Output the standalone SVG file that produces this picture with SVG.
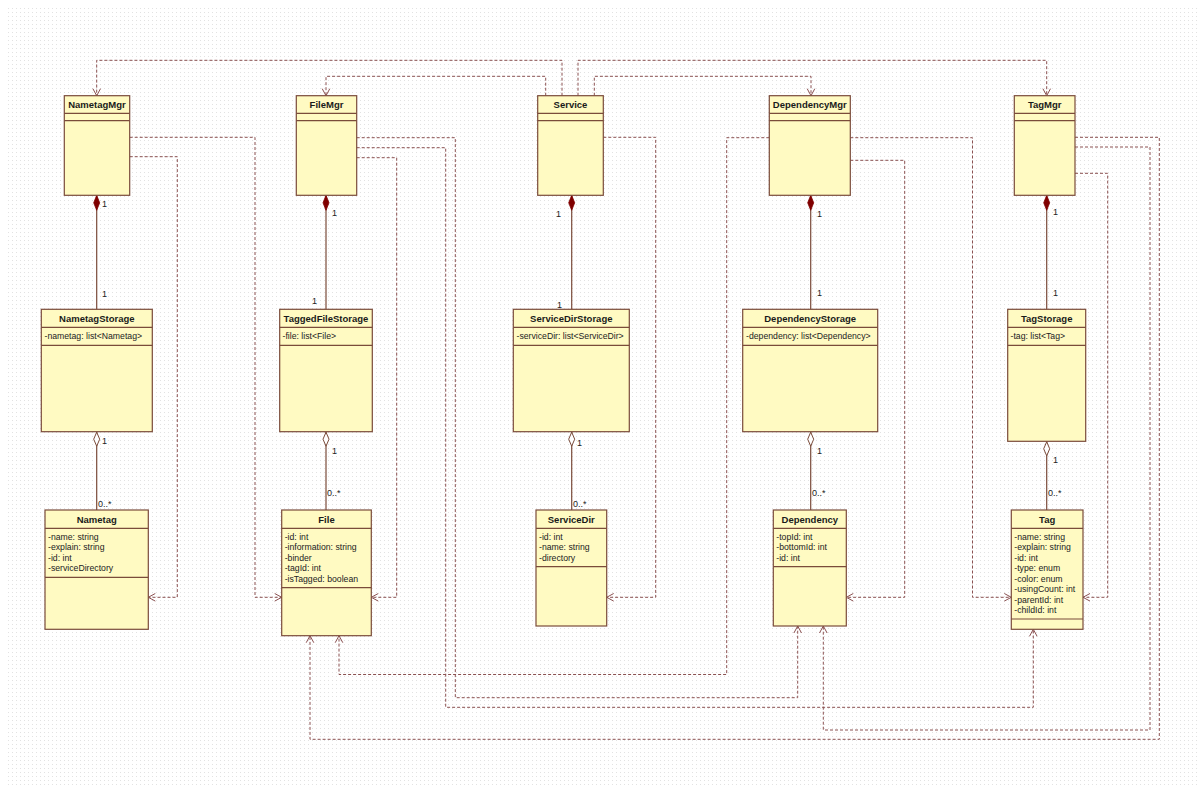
<svg xmlns="http://www.w3.org/2000/svg" width="1203" height="792" viewBox="0 0 1203 792">
<style>
.box{fill:#fffac2;stroke:#7a4b3a;stroke-width:1.2}
.sep{stroke:#7a4b3a;stroke-width:1.2}
.t{font-family:"Liberation Sans",Arial,sans-serif;font-size:9.5px;font-weight:bold;fill:#1a1a1a;text-anchor:middle}
.a{font-family:"Liberation Sans",Arial,sans-serif;font-size:8.7px;fill:#222}
.m{font-family:"Liberation Sans",Arial,sans-serif;font-size:9px;fill:#222}
.comp{fill:none;stroke:#7a4b3a;stroke-width:1.2;marker-start:url(#dfill)}
.agg{fill:none;stroke:#7a4b3a;stroke-width:1.2;marker-start:url(#dopen)}
.dep{fill:none;stroke:#8a5050;stroke-width:1;stroke-dasharray:3 2;marker-end:url(#arr)}
</style>
<defs>
<pattern id="grid" x="0" y="0" width="4" height="4" patternUnits="userSpaceOnUse">
<rect x="0" y="0" width="1" height="1" fill="#e2e2e2"/>
</pattern>
<marker id="arr" viewBox="0 -5 9 10" markerWidth="9" markerHeight="10" refX="8" refY="0" orient="auto" markerUnits="userSpaceOnUse">
<path d="M1,-3.8 L8,0 L1,3.8" fill="none" stroke="#8a5050" stroke-width="1"/>
</marker>
<marker id="dfill" viewBox="0 -4 16 8" markerWidth="16" markerHeight="8" refX="0" refY="0" orient="auto" markerUnits="userSpaceOnUse">
<path d="M0,0 L7.5,-3 L15,0 L7.5,3 Z" fill="#800000" stroke="#800000" stroke-width="0.8"/>
</marker>
<marker id="dopen" viewBox="0 -4 16 8" markerWidth="16" markerHeight="8" refX="0" refY="0" orient="auto" markerUnits="userSpaceOnUse">
<path d="M0.5,0 L7.5,-3 L14.5,0 L7.5,3 Z" fill="#ffffff" stroke="#7a4b3a" stroke-width="1"/>
</marker>
</defs>
<rect x="0" y="0" width="1203" height="792" fill="#ffffff"/>
<rect x="5" y="5" width="1193" height="780" fill="url(#grid)"/>

<g id="connectors">
<path class="comp" d="M96.7,195.3 V309.3"/>
<path class="comp" d="M326,195.3 V309.3"/>
<path class="comp" d="M571.7,195.3 V309.3"/>
<path class="comp" d="M810.7,195.3 V309.3"/>
<path class="comp" d="M1046.7,195.3 V309.3"/>
<path class="agg" d="M96.7,431.7 V510"/>
<path class="agg" d="M326,431.7 V510"/>
<path class="agg" d="M571.7,431.7 V510"/>
<path class="agg" d="M810.7,431.7 V510"/>
<path class="agg" d="M1046.7,441.3 V510"/>
<path class="dep" d="M562,95.7 V60.3 H96.7 V95.7"/>
<path class="dep" d="M545.7,95.7 V76.3 H326 V95.7"/>
<path class="dep" d="M578,95.7 V60.3 H1046.7 V95.7"/>
<path class="dep" d="M594.3,95.7 V76.3 H811 V95.7"/>
<path class="dep" d="M129.7,137.3 H255 V597.3 H281.7"/>
<path class="dep" d="M129.7,156.7 H177.3 V597.3 H148.3"/>
<path class="dep" d="M356.7,137.7 H455.3 V697.7 H797.7 V626"/>
<path class="dep" d="M356.7,147.7 H445.7 V707.3 H1033.3 V629.3"/>
<path class="dep" d="M356.7,157.7 H396.7 V597.3 H371.3"/>
<path class="dep" d="M603.3,137.3 H655.7 V597.3 H606.7"/>
<path class="dep" d="M769.3,137.7 H726.7 V674.5 H339 V635.7"/>
<path class="dep" d="M850.3,137.7 H972.5 V597.3 H1011.3"/>
<path class="dep" d="M850.3,160.3 H904.7 V597.3 H846.3"/>
<path class="dep" d="M1075,137.3 H1159.3 V739.3 H310 V635.7"/>
<path class="dep" d="M1075,147 H1150 V730 H823.3 V626"/>
<path class="dep" d="M1075,173.3 H1107.7 V597.3 H1083"/>
<g class="m">
<text x="102" y="207">1</text>
<text x="102" y="297">1</text>
<text x="332" y="216">1</text>
<text x="312" y="304">1</text>
<text x="556" y="217">1</text>
<text x="557" y="308">1</text>
<text x="817" y="217">1</text>
<text x="817" y="296">1</text>
<text x="1053" y="215">1</text>
<text x="1053" y="296">1</text>
<text x="102" y="444">1</text>
<text x="98" y="507">0..*</text>
<text x="332" y="454">1</text>
<text x="327" y="496">0..*</text>
<text x="577" y="446">1</text>
<text x="573" y="507">0..*</text>
<text x="817" y="454">1</text>
<text x="812" y="496">0..*</text>
<text x="1053" y="463">1</text>
<text x="1048" y="496">0..*</text>
</g>
</g>

<g id="NametagMgr">
<rect class="box" x="64.3" y="95.7" width="65.4" height="99.6"/>
<line class="sep" x1="64.3" y1="113.3" x2="129.7" y2="113.3"/>
<line class="sep" x1="64.3" y1="120.7" x2="129.7" y2="120.7"/>
<text class="t" x="97" y="107.8">NametagMgr</text>
</g>
<g id="FileMgr">
<rect class="box" x="296.3" y="95.7" width="60.4" height="99.6"/>
<line class="sep" x1="296.3" y1="113.3" x2="356.7" y2="113.3"/>
<line class="sep" x1="296.3" y1="120.7" x2="356.7" y2="120.7"/>
<text class="t" x="326.5" y="107.8">FileMgr</text>
</g>
<g id="Service">
<rect class="box" x="537.7" y="95.7" width="65.6" height="99.6"/>
<line class="sep" x1="537.7" y1="113.3" x2="603.3" y2="113.3"/>
<line class="sep" x1="537.7" y1="120.7" x2="603.3" y2="120.7"/>
<text class="t" x="570.5" y="107.8">Service</text>
</g>
<g id="DependencyMgr">
<rect class="box" x="769.3" y="95.7" width="81" height="99.6"/>
<line class="sep" x1="769.3" y1="113.3" x2="850.3" y2="113.3"/>
<line class="sep" x1="769.3" y1="120.7" x2="850.3" y2="120.7"/>
<text class="t" x="809.8" y="107.8">DependencyMgr</text>
</g>
<g id="TagMgr">
<rect class="box" x="1014.3" y="95.7" width="60.7" height="99.6"/>
<line class="sep" x1="1014.3" y1="113.3" x2="1075" y2="113.3"/>
<line class="sep" x1="1014.3" y1="120.7" x2="1075" y2="120.7"/>
<text class="t" x="1044.7" y="107.8">TagMgr</text>
</g>

<g id="NametagStorage">
<rect class="box" x="41.3" y="309.3" width="111" height="122.4"/>
<line class="sep" x1="41.3" y1="327.3" x2="152.3" y2="327.3"/>
<line class="sep" x1="41.3" y1="345.3" x2="152.3" y2="345.3"/>
<text class="t" x="96.8" y="321.6">NametagStorage</text>
<text class="a" x="44.5" y="339.3">-nametag: list&lt;Nametag&gt;</text>
</g>
<g id="TaggedFileStorage">
<rect class="box" x="279.7" y="309.3" width="92.6" height="122.4"/>
<line class="sep" x1="279.7" y1="327.3" x2="372.3" y2="327.3"/>
<line class="sep" x1="279.7" y1="345.3" x2="372.3" y2="345.3"/>
<text class="t" x="326" y="321.6">TaggedFileStorage</text>
<text class="a" x="282.5" y="339.3">-file: list&lt;File&gt;</text>
</g>
<g id="ServiceDirStorage">
<rect class="box" x="513.3" y="309.3" width="116" height="122.4"/>
<line class="sep" x1="513.3" y1="327.3" x2="629.3" y2="327.3"/>
<line class="sep" x1="513.3" y1="345.3" x2="629.3" y2="345.3"/>
<text class="t" x="571.3" y="321.6">ServiceDirStorage</text>
<text class="a" x="516.5" y="339.3">-serviceDir: list&lt;ServiceDir&gt;</text>
</g>
<g id="DependencyStorage">
<rect class="box" x="742.7" y="309.3" width="135" height="122.4"/>
<line class="sep" x1="742.7" y1="327.3" x2="877.7" y2="327.3"/>
<line class="sep" x1="742.7" y1="345.3" x2="877.7" y2="345.3"/>
<text class="t" x="810.2" y="321.6">DependencyStorage</text>
<text class="a" x="746" y="339.3">-dependency: list&lt;Dependency&gt;</text>
</g>
<g id="TagStorage">
<rect class="box" x="1007.7" y="309.3" width="78" height="132"/>
<line class="sep" x1="1007.7" y1="327.3" x2="1085.7" y2="327.3"/>
<line class="sep" x1="1007.7" y1="345.3" x2="1085.7" y2="345.3"/>
<text class="t" x="1046.7" y="321.6">TagStorage</text>
<text class="a" x="1010.5" y="339.3">-tag: list&lt;Tag&gt;</text>
</g>

<g id="Nametag">
<rect class="box" x="45" y="510" width="103.3" height="119.3"/>
<line class="sep" x1="45" y1="528.3" x2="148.3" y2="528.3"/>
<line class="sep" x1="45" y1="577.3" x2="148.3" y2="577.3"/>
<text class="t" x="96.7" y="522.5">Nametag</text>
<text class="a" x="48" y="539.7">-name: string</text>
<text class="a" x="48" y="550.2">-explain: string</text>
<text class="a" x="48" y="560.7">-id: int</text>
<text class="a" x="48" y="571.2">-serviceDirectory</text>
</g>
<g id="File">
<rect class="box" x="281.7" y="510" width="89.6" height="125.7"/>
<line class="sep" x1="281.7" y1="528.3" x2="371.3" y2="528.3"/>
<line class="sep" x1="281.7" y1="587.7" x2="371.3" y2="587.7"/>
<text class="t" x="326.5" y="522.5">File</text>
<text class="a" x="284.7" y="539.7">-id: int</text>
<text class="a" x="284.7" y="550.2">-information: string</text>
<text class="a" x="284.7" y="560.7">-binder</text>
<text class="a" x="284.7" y="571.2">-tagId: int</text>
<text class="a" x="284.7" y="581.7">-isTagged: boolean</text>
</g>
<g id="ServiceDir">
<rect class="box" x="536" y="510" width="70.7" height="116"/>
<line class="sep" x1="536" y1="528.3" x2="606.7" y2="528.3"/>
<line class="sep" x1="536" y1="566.7" x2="606.7" y2="566.7"/>
<text class="t" x="571.3" y="522.5">ServiceDir</text>
<text class="a" x="539" y="539.7">-id: int</text>
<text class="a" x="539" y="550.2">-name: string</text>
<text class="a" x="539" y="560.7">-directory</text>
</g>
<g id="Dependency">
<rect class="box" x="773.3" y="510" width="73" height="116"/>
<line class="sep" x1="773.3" y1="528.3" x2="846.3" y2="528.3"/>
<line class="sep" x1="773.3" y1="566.7" x2="846.3" y2="566.7"/>
<text class="t" x="809.8" y="522.5">Dependency</text>
<text class="a" x="776.3" y="539.7">-topId: int</text>
<text class="a" x="776.3" y="550.2">-bottomId: int</text>
<text class="a" x="776.3" y="560.7">-id: int</text>
</g>
<g id="Tag">
<rect class="box" x="1011.3" y="510" width="71.7" height="119.3"/>
<line class="sep" x1="1011.3" y1="528.3" x2="1083" y2="528.3"/>
<line class="sep" x1="1011.3" y1="619" x2="1083" y2="619"/>
<text class="t" x="1047.2" y="522.5">Tag</text>
<text class="a" x="1014.3" y="539.7">-name: string</text>
<text class="a" x="1014.3" y="550.2">-explain: string</text>
<text class="a" x="1014.3" y="560.7">-id: int</text>
<text class="a" x="1014.3" y="571.2">-type: enum</text>
<text class="a" x="1014.3" y="581.7">-color: enum</text>
<text class="a" x="1014.3" y="592.2">-usingCount: int</text>
<text class="a" x="1014.3" y="602.7">-parentId: int</text>
<text class="a" x="1014.3" y="613.2">-childId: int</text>
</g>
</svg>
